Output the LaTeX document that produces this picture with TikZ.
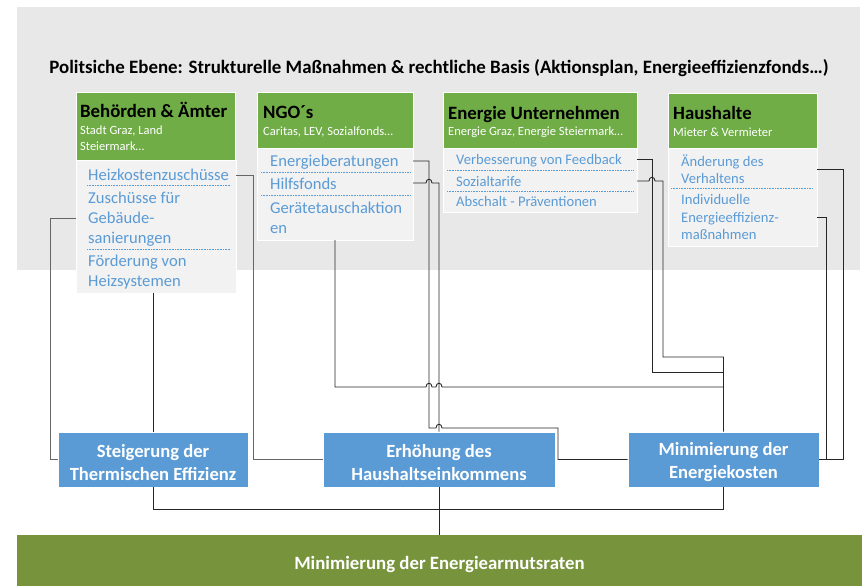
\documentclass[tikz,border=0pt]{standalone}
\usepackage{fontspec}
\setmainfont{Carlito}
\definecolor{bggray}{HTML}{E8E8E8}
\definecolor{hgreen}{HTML}{70AD47}
\definecolor{bodygray}{HTML}{F2F2F2}
\definecolor{itemblue}{HTML}{5B9BD5}
\definecolor{goalblue}{HTML}{5B9BD5}
\definecolor{olive}{HTML}{77933C}
\begin{document}
\begin{tikzpicture}[x=1pt,y=-1pt,
  hdr/.style={fill=hgreen,draw=white,line width=0.8pt},
  bodybox/.style={fill=bodygray,draw=white,line width=1pt,anchor=north west,inner sep=0pt},
  htitle/.style={anchor=base west,inner sep=0pt,font=\fontsize{18.8}{20}\selectfont\bfseries},
  hsub/.style={anchor=base west,inner sep=0pt,text=white,font=\fontsize{12.5}{14}\selectfont},
  itemL/.style={anchor=base west,inner sep=0pt,text=itemblue,font=\fontsize{16.6}{20}\selectfont},
  itemS/.style={anchor=base west,inner sep=0pt,text=itemblue,font=\fontsize{14.6}{18}\selectfont},
  sepline/.style={draw=itemblue,line width=0.8pt,dash pattern=on 0.8pt off 0.8pt},
  goal/.style={fill=goalblue,draw=white,line width=0.8pt,inner sep=0pt},
  goaltext/.style={text=white,align=center,inner sep=0pt,font=\fontsize{18.6}{23}\selectfont\bfseries},
  conn/.style={line width=0.9pt,draw=black!85},
  conng/.style={line width=0.9pt,draw=black!60}
]
\useasboundingbox (0,0) rectangle (862,586);
\fill[white] (0,0) rectangle (862,586);
% background band
\fill[bggray] (17,7) rectangle (860,270);
\node[font=\fontsize{18.9}{20}\selectfont\bfseries] (title) at (439,68)
  {Politsiche Ebene: Strukturelle Maßnahmen \& rechtliche Basis (Aktionsplan, Energieeffizienzfonds…)};

% ---------- box 1
\path[hdr] (76,92) rectangle (235,160);
\node[bodybox,minimum width=160pt,minimum height=133pt] (b1) at (76,160) {};
\node[htitle] (t1) at (80,117) {Behörden \& Ämter};
\node[hsub] (s1a) at (80,134) {Stadt Graz, Land};
\node[hsub] (s1b) at (80,150) {Steiermark…};
\node[itemL] (i1a) at (88,180) {Heizkostenzuschüsse};
\node[itemL] (i1b) at (88,203) {Zuschüsse für};
\node[itemL] (i1c) at (88,223) {Gebäude-};
\node[itemL] (i1d) at (88,243) {sanierungen};
\node[itemL] (i1e) at (88,266) {Förderung von};
\node[itemL] (i1f) at (88,286) {Heizsystemen};
\draw[sepline] (87,185) -- (231,185);
\draw[sepline] (87,249) -- (231,249);

% ---------- box 2
\path[hdr] (257,92) rectangle (413,148);
\node[bodybox,minimum width=156pt,minimum height=92pt] (b2) at (257,148) {};
\node[htitle] (t2) at (263,118) {NGO´s};
\node[hsub] (s2) at (263,135) {Caritas, LEV, Sozialfonds…};
\node[itemL] (i2a) at (270,166) {Energieberatungen};
\node[itemL] (i2b) at (270,189) {Hilfsfonds};
\node[itemL] (i2c) at (270,213) {Gerätetauschaktion};
\node[itemL] (i2d) at (270,233) {en};
\draw[sepline] (261,172) -- (410,172);
\draw[sepline] (261,195) -- (410,195);

% ---------- box 3
\path[hdr] (443,92) rectangle (637,148);
\node[bodybox,minimum width=194pt,minimum height=64pt] (b3) at (443,148) {};
\node[htitle] (t3) at (448,119) {Energie Unternehmen};
\node[hsub] (s3) at (448,135) {Energie Graz, Energie Steiermark…};
\node[itemS] (i3a) at (456,164) {Verbesserung von Feedback};
\node[itemS] (i3b) at (456,186) {Sozialtarife};
\node[itemS] (i3c) at (456,206) {Abschalt - Präventionen};
\draw[sepline] (447,170) -- (633,170);
\draw[sepline] (447,191) -- (633,191);

% ---------- box 4
\path[hdr] (668,93) rectangle (817,148);
\node[bodybox,minimum width=149pt,minimum height=98pt] (b4) at (668,148) {};
\node[htitle] (t4) at (673,119) {Haushalte};
\node[hsub] (s4) at (673,136) {Mieter \& Vermieter};
\node[itemS] (i4a) at (681,166) {Änderung des};
\node[itemS] (i4b) at (681,183) {Verhaltens};
\node[itemS] (i4c) at (681,204) {Individuelle};
\node[itemS] (i4d) at (681,222) {Energieeffizienz-};
\node[itemS] (i4e) at (681,239) {maßnahmen};
\draw[sepline] (671,188) -- (813,188);

% ---------- goals
\node[goal,minimum width=190pt,minimum height=55pt] (A) at (153,459.5) {};
\node[goal,minimum width=232pt,minimum height=55pt] (B) at (439,459.5) {};
\node[goal,minimum width=191pt,minimum height=55pt] (C) at (723.5,459.5) {};
\node[goaltext] (At) at (153,462.5) {Steigerung der\\Thermischen Effizienz};
\node[goaltext] (Bt) at (439,462.5) {Erhöhung des\\Haushaltseinkommens};
\node[goaltext] (Ct) at (723.5,462.5) {Minimierung der\\Energiekosten};
\node[fill=olive,minimum width=845pt,minimum height=51pt,inner sep=0pt] (bar) at (439.5,560.5) {};
\node[text=white,inner sep=0pt,font=\fontsize{18.8}{22}\selectfont\bfseries] (bart) at (439.5,564.5)
  {Minimierung der Energiearmutsraten};

% ---------- ports
\coordinate (p1b) at (76,218);
\coordinate (p1f) at (153,293);
\coordinate (p1a) at (236,175);
\coordinate (p2a) at (413,161);
\coordinate (p2b) at (413,183);
\coordinate (p2c) at (335,240);
\coordinate (p3a) at (637,159);
\coordinate (p3b) at (637,181);
\coordinate (p4a) at (817,169);
\coordinate (p4b) at (817,217);

% ---------- connectors
\draw[conng] (p1b) -- (50,218) |- (A.west);
\draw[conn] (p1f) -- (A.north);
\draw[conng] (p1a) -- (253,175) |- (B.west);
\draw[conn] (p2a) -- (429,161) -- (429,428) -- (436,428) .. controls (436,423) and (442,423) .. (442,428) -- (558,428) |- (C.west);
\draw[conn] (p2b) -- (426,183) .. controls (426,178) and (432,178) .. (432,183) -- (439,183) -- (B.north);
\draw[conn] (p2c) -- (335,387) -- (426,387) .. controls (426,382) and (432,382) .. (432,387)
  -- (436,387) .. controls (436,382) and (442,382) .. (442,387) -- (723.5,387);
\draw[conn] (p3a) -- (652,159) -- (652,372) -- (723.5,372);
\draw[conn] (p3b) -- (649,181) .. controls (649,176) and (655,176) .. (655,181) -- (663,181) -- (663,357) -- (723.5,357) -- (C.north);
\draw[conn] (p4a) -- (843,169) |- (C.east);
\draw[conn] (p4b) -- (826,217) |- (C.east);
\draw[conn] (A.south) -- (153,509) -| (C.south);
\draw[conn] (B.south) -- (bar.north -| B.south);
\end{tikzpicture}
\end{document}
